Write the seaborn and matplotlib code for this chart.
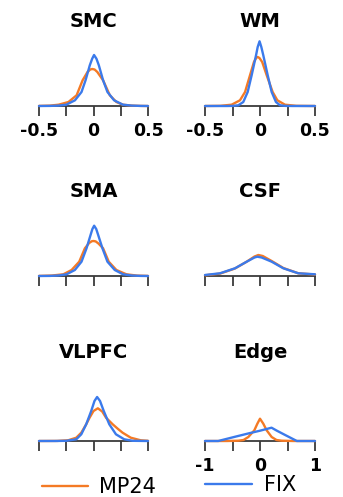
import matplotlib
matplotlib.use('Agg')
import matplotlib.pyplot as plt
import seaborn as sns

sns.set_style('white')
plt.rcParams['font.family'] = ['DejaVu Sans']
plt.rcParams['axes.unicode_minus'] = False
plt.rcParams['text.color'] = 'black'

# curve points (x, density)
smc_x_mp24 = [-0.5, -0.4, -0.32, -0.23, -0.155, -0.1, -0.055, -0.03, -0.012, 0.01, 0.035, 0.088, 0.15, 0.21, 0.27, 0.35, 0.43, 0.5]
smc_y_mp24 = [0.01, 0.04, 0.13, 0.40, 1.07, 2.57, 3.40, 3.65, 3.70, 3.65, 3.40, 2.57, 1.07, 0.40, 0.13, 0.04, 0.01, 0]
smc_x_fix = [-0.5, -0.4, -0.32, -0.25, -0.17, -0.11, -0.073, -0.034, -0.012, 0.005, 0.027, 0.049, 0.088, 0.128, 0.189, 0.27, 0.35, 0.43, 0.5]
smc_y_fix = [0, 0.01, 0.04, 0.13, 0.57, 1.40, 2.57, 4.07, 4.73, 5.10, 4.73, 4.07, 2.57, 1.40, 0.57, 0.13, 0.04, 0.01, 0]

wm_x_mp24 = [-0.5, -0.36, -0.258, -0.182, -0.136, -0.091, -0.055, -0.035, -0.021, -0.005, 0.02, 0.061, 0.115, 0.158, 0.227, 0.33, 0.5]
wm_y_mp24 = [0, 0.02, 0.13, 0.57, 1.40, 3.07, 4.40, 4.80, 4.90, 4.80, 4.40, 3.07, 1.40, 0.57, 0.13, 0.02, 0]
wm_x_fix = [-0.5, -0.3, -0.25, -0.197, -0.152, -0.112, -0.076, -0.036, -0.021, -0.004, 0.012, 0.03, 0.07, 0.106, 0.145, 0.182, 0.23, 0.3, 0.5]
wm_y_fix = [0, 0, 0.01, 0.07, 0.40, 1.40, 3.07, 5.07, 5.90, 6.47, 5.90, 5.07, 3.07, 1.40, 0.40, 0.07, 0.01, 0, 0]

sma_x_mp24 = [-0.5, -0.38, -0.277, -0.201, -0.131, -0.079, -0.04, -0.015, 0.0, 0.02, 0.045, 0.088, 0.14, 0.21, 0.302, 0.4, 0.5]
sma_y_mp24 = [0.01, 0.05, 0.17, 0.60, 1.43, 2.77, 3.30, 3.48, 3.50, 3.46, 3.25, 2.77, 1.43, 0.60, 0.17, 0.04, 0.01]
sma_x_fix = [-0.5, -0.4, -0.32, -0.247, -0.171, -0.11, -0.064, -0.027, -0.01, 0.006, 0.025, 0.043, 0.082, 0.128, 0.195, 0.271, 0.35, 0.43, 0.5]
sma_y_fix = [0, 0.01, 0.05, 0.17, 0.60, 1.43, 2.77, 4.10, 4.70, 5.03, 4.70, 4.10, 2.77, 1.43, 0.60, 0.17, 0.05, 0.01, 0]

csf_x_mp24 = [-1, -0.727, -0.455, -0.242, -0.1, -0.03, 0.05, 0.212, 0.424, 0.697, 1]
csf_y_mp24 = [0.07, 0.24, 0.75, 1.43, 1.95, 2.10, 2.00, 1.50, 0.80, 0.27, 0.15]
csf_x_fix = [-1, -0.727, -0.455, -0.242, -0.1, -0.048, 0.03, 0.212, 0.424, 0.697, 1]
csf_y_fix = [0.10, 0.27, 0.77, 1.43, 1.85, 1.93, 1.85, 1.43, 0.77, 0.27, 0.17]

vlpfc_x_mp24 = [-0.5, -0.33, -0.233, -0.158, -0.112, -0.067, -0.036, 0.0, 0.04, 0.08, 0.115, 0.176, 0.22, 0.267, 0.342, 0.433, 0.5]
vlpfc_y_mp24 = [0, 0.01, 0.07, 0.33, 0.83, 1.67, 2.33, 3.0, 3.27, 2.95, 2.33, 1.67, 1.25, 0.83, 0.33, 0.07, 0.02]
vlpfc_x_fix = [-0.5, -0.35, -0.25, -0.158, -0.112, -0.067, -0.021, 0.009, 0.033, 0.06, 0.094, 0.145, 0.206, 0.282, 0.36, 0.5]
vlpfc_y_fix = [0, 0, 0.02, 0.17, 0.67, 1.67, 3.00, 4.00, 4.40, 4.00, 3.00, 1.67, 0.67, 0.17, 0.02, 0]

edge_x_mp24 = [-1, -0.6, -0.394, -0.3, -0.212, -0.103, -0.048, 0.0, 0.06, 0.121, 0.212, 0.3, 0.394, 0.6, 1]
edge_y_mp24 = [0, 0, 0.03, 0.1, 0.40, 1.07, 1.73, 2.23, 1.73, 1.07, 0.40, 0.1, 0.03, 0, 0]
edge_x_fix = [-1, -0.76, -0.45, -0.2, 0.0, 0.21, 0.3, 0.45, 0.67, 1]
edge_y_fix = [0, 0, 0.43, 0.77, 1.03, 1.33, 1.05, 0.62, 0, 0]

names = ['SMC', 'WM', 'SMA', 'CSF', 'VLPFC', 'Edge']
series_names = ['MP24', 'FIX']
ranges = [0.5, 0.5, 0.5, 1, 0.5, 1]
tick_labels = {
    'SMC': ['-0.5', '', '0', '', '0.5'],
    'WM': ['-0.5', '', '0', '', '0.5'],
    'Edge': ['-1', '', '0', '', '1'],
}

curves = [
    (smc_x_mp24, smc_y_mp24, smc_x_fix, smc_y_fix),
    (wm_x_mp24, wm_y_mp24, wm_x_fix, wm_y_fix),
    (sma_x_mp24, sma_y_mp24, sma_x_fix, sma_y_fix),
    (csf_x_mp24, csf_y_mp24, csf_x_fix, csf_y_fix),
    (vlpfc_x_mp24, vlpfc_y_mp24, vlpfc_x_fix, vlpfc_y_fix),
    (edge_x_mp24, edge_y_mp24, edge_x_fix, edge_y_fix),
]

ORANGE = '#F47A25'
BLUE = '#3B7AEB'
DARK = '#3a3a3a'

W, H = 343, 497
fig = plt.figure(figsize=(W / 100, H / 100), dpi=100)

col_left = [39, 205]
col_width = [109, 110]
row_base = [106, 276, 441]
title_base = [27, 197, 358]
ax_h = 75

for i, name in enumerate(names):
    r, c = divmod(i, 2)
    left, wdt, base = col_left[c], col_width[c], row_base[r]
    ax = fig.add_axes([left / W, (H - base) / H, wdt / W, ax_h / H])
    xm, ym, xf, yf = curves[i]
    sns.lineplot(x=xm, y=ym, ax=ax, color=ORANGE, linewidth=1.7,
                 label=series_names[0], clip_on=False, zorder=3)
    sns.lineplot(x=xf, y=yf, ax=ax, color=BLUE, linewidth=1.7,
                 label=series_names[1], clip_on=False, zorder=4)
    rng = ranges[i]
    ax.set_xlim(-rng, rng)
    ax.set_ylim(0, 7.5)
    ticks = [-rng, -rng / 2, 0, rng / 2, rng]
    ax.set_xticks(ticks)
    ax.set_xticklabels(tick_labels.get(name, [''] * 5), fontweight='bold')
    ax.set_yticks([])
    ax.set_xlabel('')
    ax.set_ylabel('')
    sns.despine(ax=ax, left=True)
    ax.spines['bottom'].set_color(DARK)
    ax.spines['bottom'].set_linewidth(1.3)
    ax.tick_params(axis='x', bottom=True, direction='out', length=7.5, width=1.3,
                   color=DARK, pad=4, labelsize=12.5, labelcolor='black')
    ax.patch.set_alpha(0)
    lines = ax.get_lines()
    if name == 'VLPFC':
        ax.legend(handles=[lines[0]], labels=[series_names[0]], loc='center left',
                  bbox_to_anchor=((42 - left) / wdt, -(487 - base) / ax_h),
                  frameon=False, borderpad=0, borderaxespad=0, labelcolor='black',
                  handlelength=2.2, handletextpad=0.55, fontsize=15)
    elif name == 'Edge':
        ax.legend(handles=[lines[1]], labels=[series_names[1]], loc='center left',
                  bbox_to_anchor=((205 - left) / wdt, -(485 - base) / ax_h),
                  frameon=False, borderpad=0, borderaxespad=0, labelcolor='black',
                  handlelength=2.25, handletextpad=0.6, fontsize=15)
    else:
        ax.get_legend().remove()
    fig.text((left + wdt / 2) / W, 1 - title_base[r] / H, name, ha='center',
             va='baseline', fontsize=14, fontweight='bold', color='black')

fig.savefig('out.png', dpi=100)
